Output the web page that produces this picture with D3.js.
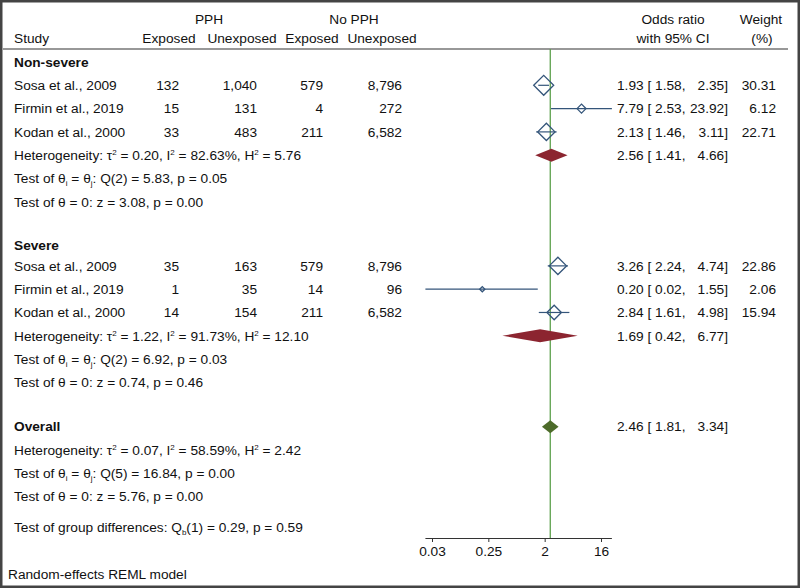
<!DOCTYPE html>
<html>
<head>
<meta charset="utf-8">
<script src="https://cdn.jsdelivr.net/npm/d3@7"></script>
<style>
  html, body { margin: 0; padding: 0; background: #fff; }
  svg { display: block; }
  text { font-family: Arial, "Liberation Sans", Helvetica, sans-serif; font-size: 13.7px; fill: #111; }
</style>
</head>
<body>
<svg id="chart" width="800" height="588"></svg>
<script>
// ---------------- data ----------------
const groups = ["Non-severe", "Severe"];
const studies = ["Sosa et al., 2009", "Firmin et al., 2019", "Kodan et al., 2000",
                 "Sosa et al., 2009", "Firmin et al., 2019", "Kodan et al., 2000"];
const studyGroup = [0, 0, 0, 1, 1, 1];
const pphExposed = [132, 15, 33, 35, 1, 14];
const pphUnexposed = [1040, 131, 483, 163, 35, 154];
const noPphExposed = [579, 4, 211, 579, 14, 211];
const noPphUnexposed = [8796, 272, 6582, 8796, 96, 6582];
const studyOR = [1.93, 7.79, 2.13, 3.26, 0.20, 2.84];
const studyLo = [1.58, 2.53, 1.46, 2.24, 0.0245, 1.61];
const studyHi = [2.35, 23.92, 3.11, 4.74, 1.55, 4.98];
const studyWeight = [30.31, 6.12, 22.71, 22.86, 2.06, 15.94];

const groupOR = [2.56, 1.69];
const groupLo = [1.41, 0.42];
const groupHi = [4.66, 6.77];
const groupTau2 = ["0.20", "1.22"];
const groupI2 = ["82.63", "91.73"];
const groupH2 = ["5.76", "12.10"];
const groupQdf = [2, 2];
const groupQ = ["5.83", "6.92"];
const groupQp = ["0.05", "0.03"];
const groupZ = ["3.08", "0.74"];
const groupZp = ["0.00", "0.46"];

const overallOR = 2.46, overallLo = 1.81, overallHi = 3.34;
const overallTau2 = "0.07", overallI2 = "58.59", overallH2 = "2.42";
const overallQdf = 5, overallQ = "16.84", overallQp = "0.00";
const overallZ = "5.76", overallZp = "0.00";
const groupDiffDf = 1, groupDiffQ = "0.29", groupDiffP = "0.59";

const tickValues = [0.03125, 0.25, 2, 16];
const tickLabels = ["0.03", "0.25", "2", "16"];

// row index positions
const studyRows = [1, 2, 3, 8.75, 9.75, 10.75];
const groupHeadRows = [0, 7.85];
const groupHetRows = [4, 11.75];
const overallRow = 15.65;
const groupDiffRow = 19.95;

// ---------------- scales ----------------
const svg = d3.select("#chart");
const x = d3.scaleLog().base(2).domain([0.03125, 16]).range([432, 601]);
const y = d3.scaleLinear().domain([0, 1]).range([62, 85.3]);
const size = d3.scaleSqrt().domain([0, 30.31]).range([0, 10]);
const fmt = d3.format(",");
const f2 = d => d.toFixed(2);

const markerColor = "#34557a";
const groupColor = "#8c2530";
const overallColor = "#4d6b2a";
const lineGreen = "#5ea14e";

// frame
svg.append("rect").attr("x", 1.25).attr("y", 1.25).attr("width", 797.5).attr("height", 585.5)
  .attr("fill", "none").attr("stroke", "#444").attr("stroke-width", 2.5);

// header
function txt(xp, yp, s, anchor, weight) {
  return svg.append("text").attr("x", xp).attr("y", yp).attr("dy", "0.35em")
    .attr("text-anchor", anchor || "start").attr("font-weight", weight || null).text(s);
}
txt(209, 19, "PPH", "middle");
txt(354, 19, "No PPH", "middle");
txt(14, 38, "Study");
txt(169, 38, "Exposed", "middle");
txt(242, 38, "Unexposed", "middle");
txt(312, 38, "Exposed", "middle");
txt(382, 38, "Unexposed", "middle");
txt(673, 19, "Odds ratio", "middle");
txt(673, 38, "with 95% CI", "middle");
txt(761, 19, "Weight", "middle");
txt(762, 38, "(%)", "middle");
svg.append("line").attr("x1", 3).attr("x2", 788).attr("y1", 49).attr("y2", 49)
  .attr("stroke", "#333").attr("stroke-width", 1.2);

// rich text helper: shifts are applied to the next non-empty tspan
function rich(xp, yp, parts) {
  const t = svg.append("text").attr("x", xp).attr("y", yp + 4.8);
  let offset = 0;
  parts.forEach(p => {
    let s, shift = 0, small = false;
    if (typeof p === "string") { s = p; }
    else if (p.sup) { s = p.sup; shift = -5; small = true; }
    else { s = p.sub; shift = 3; small = true; }
    const ts = t.append("tspan").attr("dy", shift - offset).text(s);
    if (small) ts.attr("font-size", "8px");
    offset = shift;
  });
  return t;
}
function ciText(yp, est, lo, hi) {
  txt(617, yp, f2(est) + " [ " + f2(lo) + ",");
  txt(728, yp, f2(hi) + "]", "end");
}

// green line at overall estimate
svg.append("line").attr("x1", x(overallOR)).attr("x2", x(overallOR)).attr("y1", 49).attr("y2", 538)
  .attr("stroke", lineGreen).attr("stroke-width", 1.3);

// group sections
groups.forEach((g, gi) => {
  txt(14, y(groupHeadRows[gi]), g, "start", "bold");
  const hr = groupHetRows[gi];
  rich(14, y(hr), ["Heterogeneity: \u03C4", {sup: "2"}, " = " + groupTau2[gi] + ", I", {sup: "2"},
    " = " + groupI2[gi] + "%, H", {sup: "2"}, " = " + groupH2[gi]]);
  rich(14, y(hr + 1), ["Test of \u03B8", {sub: "i"}, " = \u03B8", {sub: "j"},
    ": Q(" + groupQdf[gi] + ") = " + groupQ[gi] + ", p = " + groupQp[gi]]);
  rich(14, y(hr + 2), ["Test of \u03B8 = 0: z = " + groupZ[gi] + ", p = " + groupZp[gi]]);
  // pooled diamond
  const yy = y(hr);
  svg.append("path")
    .attr("d", `M${x(groupLo[gi])},${yy} L${x(groupOR[gi])},${yy - 6.5} L${x(groupHi[gi])},${yy} L${x(groupOR[gi])},${yy + 6.5} Z`)
    .attr("fill", groupColor);
  ciText(yy, groupOR[gi], groupLo[gi], groupHi[gi]);
});

// studies
studies.forEach((s, i) => {
  const yy = y(studyRows[i]);
  txt(14, yy, s);
  txt(179, yy, fmt(pphExposed[i]), "end");
  txt(257, yy, fmt(pphUnexposed[i]), "end");
  txt(323, yy, fmt(noPphExposed[i]), "end");
  txt(402, yy, fmt(noPphUnexposed[i]), "end");
  svg.append("line").attr("x1", x(studyLo[i])).attr("x2", x(studyHi[i])).attr("y1", yy).attr("y2", yy)
    .attr("stroke", markerColor).attr("stroke-width", 1.2);
  const r = Math.max(size(studyWeight[i]), 2.3);
  const cx = x(studyOR[i]);
  svg.append("path")
    .attr("d", `M${cx - r},${yy} L${cx},${yy - r} L${cx + r},${yy} L${cx},${yy + r} Z`)
    .attr("fill", "none").attr("stroke", markerColor).attr("stroke-width", 1.3);
  ciText(yy, studyOR[i], studyLo[i], studyHi[i]);
  txt(776, yy, f2(studyWeight[i]), "end");
});

// overall
const oy = y(overallRow);
txt(14, oy, "Overall", "start", "bold");
rich(14, y(overallRow + 1), ["Heterogeneity: \u03C4", {sup: "2"}, " = " + overallTau2 + ", I", {sup: "2"},
  " = " + overallI2 + "%, H", {sup: "2"}, " = " + overallH2]);
rich(14, y(overallRow + 2), ["Test of \u03B8", {sub: "i"}, " = \u03B8", {sub: "j"},
  ": Q(" + overallQdf + ") = " + overallQ + ", p = " + overallQp]);
rich(14, y(overallRow + 3), ["Test of \u03B8 = 0: z = " + overallZ + ", p = " + overallZp]);
rich(14, y(groupDiffRow), ["Test of group differences: Q", {sub: "b"}, "(" + groupDiffDf + ") = " + groupDiffQ + ", p = " + groupDiffP]);
svg.append("path")
  .attr("d", `M${x(overallLo)},${oy} L${x(overallOR)},${oy - 6.5} L${x(overallHi)},${oy} L${x(overallOR)},${oy + 6.5} Z`)
  .attr("fill", overallColor);
ciText(oy, overallOR, overallLo, overallHi);

// axis
const axisG = svg.append("g").attr("transform", "translate(0,538)");
axisG.call(d3.axisBottom(x).tickValues(tickValues)
  .tickFormat((d, i) => tickLabels[i]).tickSizeOuter(0).tickSize(4).tickPadding(4));
axisG.select(".domain").remove();
axisG.append("line").attr("x1", x(d3.min(studyLo))).attr("x2", x(d3.max(studyHi)))
  .attr("y1", 0.5).attr("y2", 0.5).attr("stroke", "#333").attr("stroke-width", 1.2);
axisG.selectAll(".tick line").attr("stroke", "#333");
axisG.selectAll(".tick text").attr("font-size", "13.7px").attr("fill", "#111")
  .attr("font-family", "Arial, 'Liberation Sans', sans-serif");

// footnote
txt(8, 574, "Random-effects REML model");
</script>
</body>
</html>
